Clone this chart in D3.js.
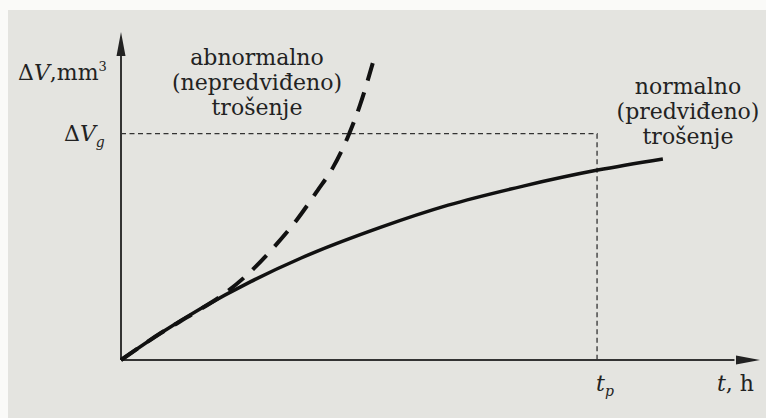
<!DOCTYPE html>
<html>
<head>
<meta charset="utf-8">
<script src="https://cdn.jsdelivr.net/npm/d3@7"></script>
<style>
  body { margin: 0; background: #fafaf8; }
  text { font-family: "DejaVu Serif", serif; fill: #222; }
</style>
</head>
<body>
<svg id="chart" width="766" height="418"></svg>
<script>
// wear curves, in arbitrary units (t 0..100, dV 0..100)
var normalT  = [0, 6.3, 12.5, 20.3, 28.2, 40.7, 51.2, 63.1, 74.6, 84.8];
var normalV  = [0, 8.3, 15.7, 23.9, 31.1, 40.5, 47.2, 53.1, 57.9, 61.3];
var abnormalT = [0, 6.3, 11.6, 16.3, 20.2, 23.8, 27.5, 30.7, 33.2, 35.5, 37.4, 39.4];
var abnormalV = [0, 8.3, 14.5, 20.4, 26.8, 34.1, 42.7, 51.5, 58.8, 68.0, 77.7, 90.5];
var limitV = 69;     // ΔV_g
var limitT = 74.5;   // t_p
var abnormalLabel = ["abnormalno", "(nepredviđeno)", "trošenje"];
var normalLabel = ["normalno", "(predviđeno)", "trošenje"];

var svg = d3.select("#chart");

svg.append("rect")
    .attr("x", 8).attr("y", 10)
    .attr("width", 758).attr("height", 408)
    .attr("fill", "#e4e4e0");

var x = d3.scaleLinear().domain([0, 100]).range([121, 760]);
var y = d3.scaleLinear().domain([0, 100]).range([360, 32]);

// axes
svg.append("line")
    .attr("x1", x(0)).attr("x2", x(96))
    .attr("y1", y(0)).attr("y2", y(0))
    .attr("stroke", "#333").attr("stroke-width", 2);
svg.append("line")
    .attr("x1", x(0)).attr("x2", x(0))
    .attr("y1", y(0)).attr("y2", y(93))
    .attr("stroke", "#333").attr("stroke-width", 2);

svg.append("path")
    .attr("d", "M" + x(100) + "," + y(0) + " l-24,-4.5 l0,9 z")
    .attr("fill", "#222");
svg.append("path")
    .attr("d", "M" + x(0) + "," + y(100) + " l-4.5,24 l9,0 z")
    .attr("fill", "#222");

// limit lines
svg.append("path")
    .attr("d", "M" + x(0) + "," + y(limitV) + "H" + x(limitT) + "V" + y(0))
    .attr("fill", "none")
    .attr("stroke", "#333")
    .attr("stroke-width", 1.3)
    .attr("stroke-dasharray", "5,3.5");

var line = d3.line()
    .x(d => x(d[0]))
    .y(d => y(d[1]))
    .curve(d3.curveMonotoneX);

svg.append("path")
    .datum(d3.zip(normalT, normalV))
    .attr("d", line)
    .attr("fill", "none")
    .attr("stroke", "#111")
    .attr("stroke-width", 3.5);

svg.append("path")
    .datum(d3.zip(abnormalT, abnormalV))
    .attr("d", line)
    .attr("fill", "none")
    .attr("stroke", "#111")
    .attr("stroke-width", 4)
    .attr("stroke-dasharray", "20,12");

// labels
function block(lines, cx, top) {
    svg.append("text")
        .attr("text-anchor", "middle")
        .attr("font-size", 22)
        .selectAll("tspan")
        .data(lines)
        .join("tspan")
        .attr("x", cx)
        .attr("y", (d, i) => top + i * 25)
        .text(d => d);
}
block(abnormalLabel, 257, 65);
block(normalLabel, 688, 94);

var yl = svg.append("text").attr("x", 18).attr("y", 80).attr("font-size", 22);
yl.append("tspan").text("Δ");
yl.append("tspan").attr("font-style", "italic").text("V");
yl.append("tspan").text(",mm");
yl.append("tspan").attr("font-size", 13).attr("dy", -9).text("3");

var gl = svg.append("text").attr("x", 64).attr("y", y(limitV) + 7).attr("font-size", 22);
gl.append("tspan").text("Δ");
gl.append("tspan").attr("font-style", "italic").text("V");
gl.append("tspan").attr("font-style", "italic").attr("font-size", 14).attr("dy", 6).text("g");

var tl = svg.append("text").attr("x", x(limitT) - 1).attr("y", 391).attr("font-size", 22);
tl.append("tspan").attr("font-style", "italic").text("t");
tl.append("tspan").attr("font-style", "italic").attr("font-size", 14).attr("dy", 5).text("p");

var xl = svg.append("text").attr("x", 717).attr("y", 391).attr("font-size", 22);
xl.append("tspan").attr("font-style", "italic").text("t");
xl.append("tspan").text(", h");
</script>
</body>
</html>
